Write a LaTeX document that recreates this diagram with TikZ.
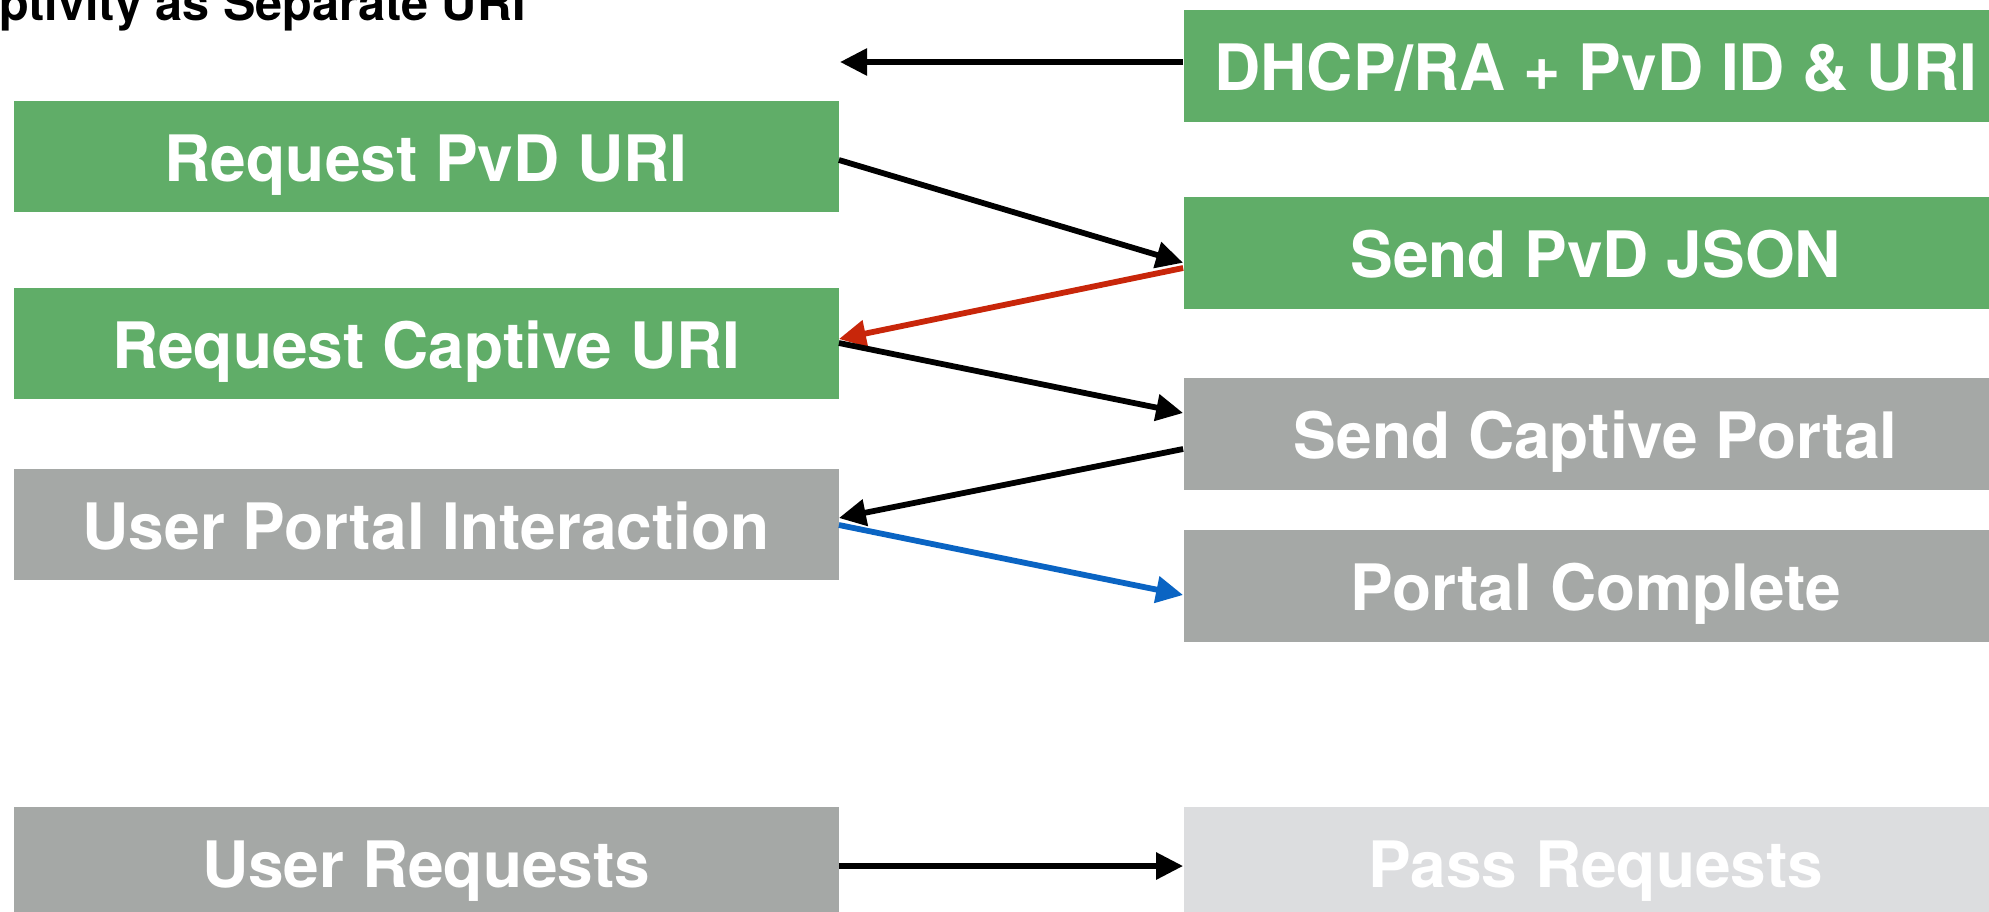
\documentclass[tikz,border=0pt]{standalone}
\usepackage{fontspec}
\setmainfont{TeX Gyre Heros}
\usetikzlibrary{arrows.meta,calc}
\definecolor{boxgreen}{RGB}{96,173,104}
\definecolor{boxgray}{RGB}{165,168,166}
\definecolor{boxlight}{RGB}{220,221,223}
\definecolor{arrred}{RGB}{200,38,10}
\definecolor{arrblue}{RGB}{10,100,195}
\begin{document}
\begin{tikzpicture}[x=0.5pt,y=-0.5pt,
  box/.style={rectangle, inner sep=0pt, minimum width=412.25pt, minimum height=55.75pt,
    text height=25pt, text depth=0pt,
    text=white, font=\bfseries\fontsize{32}{36}\selectfont},
  conn/.style={line width=2.9pt, -{Triangle[length=13.5pt,width=13pt]}}]
\useasboundingbox (0,0) rectangle (1989,911);
\node[anchor=base east, inner sep=0pt, font=\bfseries\fontsize{24.3}{28}\selectfont] (title) at (526,20) {Captivity as Separate URI};
% left column
\node[box, fill=boxgreen] (rpvd) at (426.25,156.5) {Request PvD URI};
\node[box, fill=boxgreen] (rcap) at (426.25,343.5) {Request Captive URI};
\node[box, fill=boxgray]  (upi)  at (426.25,524.5) {User Portal Interaction};
\node[box, fill=boxgray]  (ureq) at (426.25,862.5) {User Requests};
% right column
\node[box, fill=boxgreen] (dhcp) at (1595.75,65.75) {DHCP/RA + PvD ID \& URI};
\node[box, fill=boxgreen] (spvd) at (1595.75,252.75) {Send PvD JSON};
\node[box, fill=boxgray]  (scap) at (1595.75,433.75) {Send Captive Portal};
\node[box, fill=boxgray]  (pcom) at (1595.75,585.75) {Portal Complete};
\node[box, fill=boxlight] (preq) at (1595.75,862.5) {Pass Requests};
% connectors
\coordinate (free) at (840,62);
\draw[conn] ($(dhcp.west)+(0,-3.75)$) -- (free);
\draw[conn] ($(rpvd.east)+(0,3.5)$) -- ($(spvd.west)+(0,10)$);
\draw[conn, draw=arrred, fill=arrred] ($(spvd.west)+(0,15.25)$) -- ($(rcap.east)+(0,-4.5)$);
\draw[conn] ($(rcap.east)+(0,-0.5)$) -- ($(scap.west)+(0,-20.75)$);
\draw[conn] ($(scap.west)+(0,15.25)$) -- ($(upi.east)+(0,-6.5)$);
\draw[conn, draw=arrblue, fill=arrblue] ($(upi.east)+(0,0.5)$) -- ($(pcom.west)+(0,9.25)$);
\draw[conn] ($(ureq.east)+(0,3.5)$) -- ($(preq.west)+(0,3.5)$);
\end{tikzpicture}
\end{document}
